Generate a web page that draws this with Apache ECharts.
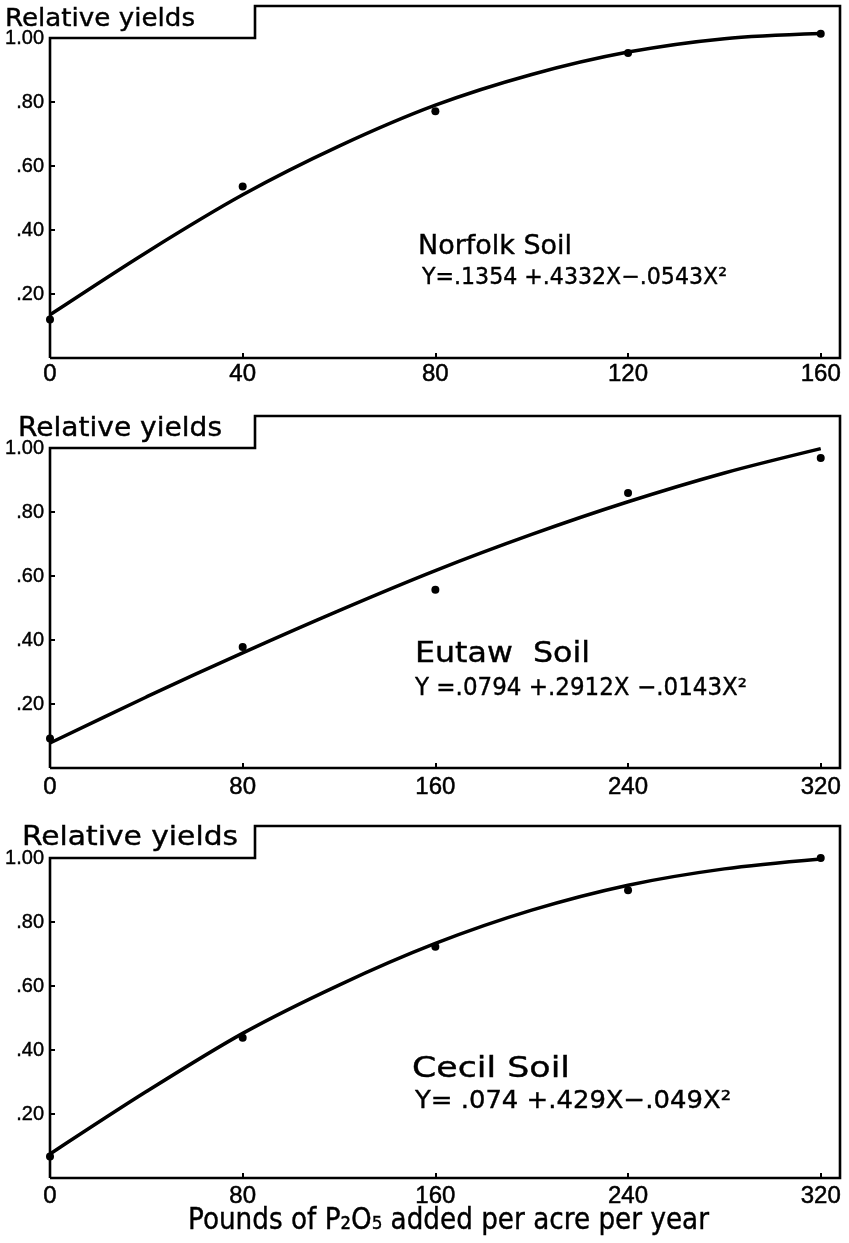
<!DOCTYPE html>
<html>
<head>
<meta charset="utf-8">
<script src="https://cdn.jsdelivr.net/npm/echarts@6/dist/echarts.min.js"></script>
<style>
html,body{margin:0;padding:0;background:#fff;}
#c{width:849px;height:1243px;}
</style>
</head>
<body>
<div id="c"></div>
<script>
// ---------- data ----------
const norfolkX = [0, 40, 80, 120, 160];
const norfolkY = [0.12, 0.536, 0.771, 0.953, 1.013];
const norfolkCurveX = [0, 20, 40, 60, 80, 100, 120, 140, 160];
const norfolkCurveY = [0.135, 0.330, 0.510, 0.662, 0.790, 0.886, 0.956, 0.998, 1.014];

const eutawX = [0, 80, 160, 240, 320];
const eutawY = [0.092, 0.378, 0.557, 0.859, 0.969];
const eutawCurveX = [0, 40, 80, 120, 160, 200, 240, 280, 320];
const eutawCurveY = [0.078, 0.222, 0.360, 0.492, 0.617, 0.730, 0.832, 0.922, 0.998];

const cecilX = [0, 80, 160, 240, 320];
const cecilY = [0.067, 0.438, 0.723, 0.899, 1.0];
const cecilCurveX = [0, 40, 80, 120, 160, 200, 240, 280, 320];
const cecilCurveY = [0.075, 0.270, 0.452, 0.603, 0.733, 0.837, 0.915, 0.966, 0.997];

const xTicksNorfolk = [0, 40, 80, 120, 160];
const xTicksOther = [0, 80, 160, 240, 320];
const yTicks = [0.2, 0.4, 0.6, 0.8, 1.0];
const yTickLabels = ['.20', '.40', '.60', '.80', '1.00'];

const soilNames = ['Norfolk Soil', 'Eutaw  Soil', 'Cecil Soil'];
const equations = ['Y=.1354 +.4332X\u2212.0543X\u00B2', 'Y =.0794 +.2912X \u2212.0143X\u00B2', 'Y= .074 +.429X\u2212.049X\u00B2'];
const yAxisTitle = 'Relative yields';
const xAxisTitle = 'Pounds of P\u2082O\u2085 added per acre per year';

// ---------- layout ----------
const FONT = "'DejaVu Sans', sans-serif";
const NUMFONT = "'Liberation Sans', Arial, sans-serif";
const GRID_LEFT = 50, GRID_RIGHT = 9, GRID_H = 352, TAB_X = 255;
const panels = [
  {top: 6,   xMax: 164, xTicks: xTicksNorfolk, px: norfolkX, py: norfolkY, cx: norfolkCurveX, cy: norfolkCurveY, xMargin: 4,
   ylab: {x: 5, y: 19, size: 25, w: 190},
   name: {x: 418, y: 247, size: 27, w: 154}, eq: {x: 422, y: 278.5, size: 23, w: 305}},
  {top: 416, xMax: 328, xTicks: xTicksOther, px: eutawX, py: eutawY, cx: eutawCurveX, cy: eutawCurveY, xMargin: 7,
   ylab: {x: 18, y: 429.5, size: 26, w: 204},
   name: {x: 415, y: 655, size: 28, w: 175}, eq: {x: 415, y: 688.5, size: 24, w: 332}},
  {top: 826, xMax: 328, xTicks: xTicksOther, px: cecilX, py: cecilY, cx: cecilCurveX, cy: cecilCurveY, xMargin: 6,
   ylab: {x: 22, y: 837.5, size: 27, w: 216},
   name: {x: 412, y: 1069, size: 29, w: 158}, eq: {x: 415, y: 1101, size: 25, w: 316}}
];

const chart = echarts.init(document.getElementById('c'), null, {renderer: 'canvas'});

function yFmt(v) {
  for (let i = 0; i < yTicks.length; i++) if (Math.abs(yTicks[i] - v) < 1e-6) return yTickLabels[i];
  return '';
}

const grids = [], xAxes = [], yAxes = [], series = [];
panels.forEach((p, i) => {
  grids.push({left: GRID_LEFT, right: GRID_RIGHT, top: p.top, height: GRID_H, containLabel: false, outerBoundsMode: 'none'});
  xAxes.push({
    type: 'value', gridIndex: i, min: 0, max: p.xMax,
    axisLine: {show: false}, splitLine: {show: false},
    axisTick: {show: true, inside: true, length: 5, lineStyle: {color: '#000', width: 2}, customValues: p.xTicks.slice(1)},
    axisLabel: {show: true, customValues: p.xTicks, color: '#000', fontSize: 24, fontFamily: NUMFONT, margin: p.xMargin,
                textBorderColor: '#000', textBorderWidth: 0.5}
  });
  yAxes.push({
    type: 'value', gridIndex: i, min: 0, max: 1.1,
    axisLine: {show: false}, splitLine: {show: false},
    axisTick: {show: true, inside: true, length: 5, lineStyle: {color: '#000', width: 2}, customValues: yTicks},
    axisLabel: {show: true, customValues: yTicks, formatter: yFmt, color: '#000', fontSize: 20, fontFamily: NUMFONT, margin: 6,
                textBorderColor: '#000', textBorderWidth: 0.4}
  });
  series.push({
    type: 'line', xAxisIndex: i, yAxisIndex: i,
    data: p.cx.map((x, k) => [x, p.cy[k]]),
    smooth: 0.3, showSymbol: false, symbol: 'none',
    lineStyle: {color: '#000', width: 3.5}, z: 3
  });
  series.push({
    type: 'scatter', xAxisIndex: i, yAxisIndex: i,
    data: p.px.map((x, k) => [x, p.py[k]]),
    symbol: 'circle', symbolSize: 8,
    itemStyle: {color: '#000', opacity: 1}, z: 4
  });
});

chart.setOption({
  animation: false,
  backgroundColor: '#fff',
  grid: grids, xAxis: xAxes, yAxis: yAxes, series: series
});

// text helper: scale horizontally so the text spans the measured width of the original
const ctx = document.createElement('canvas').getContext('2d');
function textEl(str, o, family) {
  ctx.font = o.size + 'px ' + family;
  const natural = ctx.measureText(str).width || 1;
  return {
    type: 'text', x: o.x, y: o.y, scaleX: o.w / natural, z: 20,
    style: {text: str, x: 0, y: 0, fill: '#000', stroke: '#000', lineWidth: 0.4,
            fontSize: o.size, fontFamily: family, textAlign: 'left', textVerticalAlign: 'middle'}
  };
}

const graphics = [];
panels.forEach((p, i) => {
  const b = chart.convertToPixel({gridIndex: i}, [0, 0]);
  const one = chart.convertToPixel({gridIndex: i}, [0, 1.0]);
  const tr = chart.convertToPixel({gridIndex: i}, [p.xMax, 1.1]);
  graphics.push({
    type: 'polyline', z: 15,
    shape: {points: [[b[0], b[1]], [one[0], one[1]], [TAB_X, one[1]], [TAB_X, tr[1]], [tr[0], tr[1]], [tr[0], b[1]], [b[0], b[1]]]},
    style: {stroke: '#000', lineWidth: 2.6, fill: null, lineJoin: 'miter'}
  });
  graphics.push(textEl(yAxisTitle, p.ylab, FONT));
  graphics.push(textEl(soilNames[i], p.name, FONT));
  graphics.push(textEl(equations[i], p.eq, FONT));
});
graphics.push(textEl(xAxisTitle, {x: 188, y: 1221, size: 30, w: 521}, FONT));

chart.setOption({graphic: graphics});
</script>
</body>
</html>
